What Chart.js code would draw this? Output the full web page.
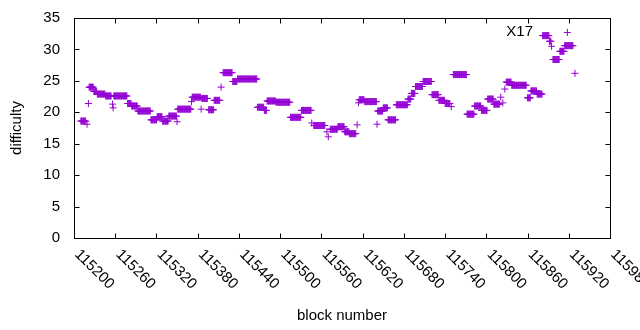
<!DOCTYPE html>
<html>
<head>
<meta charset="utf-8">
<script src="https://cdn.jsdelivr.net/npm/chart.js@4/dist/chart.umd.min.js"></script>
<style>
html, body { margin: 0; padding: 0; background: #fff; }
#wrap { width: 640px; height: 330px; }
</style>
</head>
<body>
<div id="wrap"><canvas id="difficultyChart"></canvas></div>
<script>
// runs of blocks that share the same difficulty (first block, last block, value)
var runStart = [115210, 115219, 115221, 115222, 115229, 115234, 115246, 115256, 115257, 115258,
                115278, 115284, 115293, 115312, 115321, 115329, 115338, 115350, 115351, 115371,
                115372, 115385, 115386, 115396, 115404, 115414, 115417, 115431, 115438, 115467,
                115477, 115481, 115494, 115515, 115531, 115546, 115549, 115568, 115570, 115573,
                115584, 115594, 115601, 115612, 115614, 115615, 115623, 115641, 115642, 115650,
                115657, 115669, 115686, 115691, 115697, 115708, 115721, 115731, 115740, 115749,
                115752, 115772, 115783, 115793, 115802, 115811, 115821, 115824, 115827, 115829,
                115837, 115860, 115865, 115874, 115882, 115892, 115895, 115897, 115907, 115914,
                115918, 115929];
var runEnd   = [115217, 115219, 115221, 115228, 115233, 115245, 115254, 115256, 115257, 115277,
                115283, 115292, 115311, 115320, 115328, 115337, 115349, 115350, 115370, 115371,
                115384, 115385, 115394, 115403, 115412, 115414, 115430, 115437, 115466, 115476,
                115480, 115493, 115514, 115530, 115545, 115546, 115565, 115568, 115570, 115583,
                115593, 115600, 115610, 115612, 115614, 115622, 115640, 115641, 115649, 115656,
                115668, 115685, 115690, 115696, 115707, 115720, 115730, 115739, 115747, 115749,
                115771, 115782, 115792, 115801, 115810, 115819, 115821, 115824, 115827, 115836,
                115858, 115864, 115873, 115881, 115891, 115894, 115895, 115906, 115913, 115926,
                115918, 115929];
var runDifficulty = [18.6, 18.1, 21.4, 24.0, 23.3, 22.9, 22.6, 21.3, 20.7, 22.6,
                     21.4, 21.0, 20.2, 18.8, 19.3, 18.6, 19.4, 18.5, 20.5, 21.7,
                     22.4, 20.5, 22.2, 20.4, 21.9, 24.0, 26.3, 24.9, 25.3, 20.8,
                     20.3, 21.8, 21.6, 19.2, 20.3, 18.3, 17.9, 16.9, 16.1, 17.3,
                     17.7, 16.9, 16.6, 18.0, 21.5, 22.0, 21.7, 18.1, 20.2, 20.7,
                     18.8, 21.2, 22.1, 23.0, 24.1, 24.9, 22.8, 21.9, 21.4, 20.9,
                     26.0, 19.7, 21.0, 20.3, 22.1, 21.3, 22.4, 21.5, 23.7, 24.8,
                     24.3, 22.3, 23.4, 22.9, 32.2, 31.3, 30.5, 28.4, 29.7, 30.6,
                     32.7, 26.2];

var xMin = 115200, xMax = 115980, xStep = 60;
var yMin = 0, yMax = 35, yStep = 5;
var noteText = 'X17';
var noteBlock = 115868, noteDifficulty = 32.8;

var points = [];
for (var i = 0; i < runStart.length; i++) {
    for (var b = runStart[i]; b <= runEnd[i]; b++) {
        points.push({ x: b, y: runDifficulty[i] });
    }
}

var fontFamily = '"Liberation Sans", Arial, sans-serif';

// gnuplot style frame, inward ticks, rotated x labels and the note
var gnuplotFrame = {
    id: 'gnuplotFrame',
    afterDraw: function (chart) {
        var ctx = chart.ctx, area = chart.chartArea;
        var xs = chart.scales.x, ys = chart.scales.y;
        var l = Math.round(area.left) + 0.5, r = Math.round(area.right) + 0.5;
        var t = Math.round(area.top) + 0.5, bt = Math.round(area.bottom) + 0.5;
        ctx.save();
        ctx.strokeStyle = '#000';
        ctx.lineWidth = 1;
        ctx.beginPath();
        xs.ticks.forEach(function (tk) {
            var px = Math.round(xs.getPixelForValue(tk.value)) + 0.5;
            ctx.moveTo(px, bt); ctx.lineTo(px, bt - 5);
            ctx.moveTo(px, t); ctx.lineTo(px, t + 5);
        });
        ys.ticks.forEach(function (tk) {
            var py = Math.round(ys.getPixelForValue(tk.value)) + 0.5;
            ctx.moveTo(l, py); ctx.lineTo(l + 5, py);
            ctx.moveTo(r, py); ctx.lineTo(r - 5, py);
        });
        ctx.stroke();
        ctx.strokeRect(l, t, r - l, bt - t);

        ctx.fillStyle = '#000';
        ctx.font = '15px ' + fontFamily;
        ctx.textAlign = 'left';
        ctx.textBaseline = 'middle';
        xs.ticks.forEach(function (tk) {
            var px = xs.getPixelForValue(tk.value);
            ctx.save();
            ctx.translate(px + 3, area.bottom + 14);
            ctx.rotate(Math.PI / 4);
            ctx.fillText(String(tk.value), 0, 0);
            ctx.restore();
        });

        ctx.textAlign = 'right';
        ctx.fillText(noteText, xs.getPixelForValue(noteBlock), ys.getPixelForValue(noteDifficulty));
        ctx.restore();
    }
};

new Chart(document.getElementById('difficultyChart'), {
    type: 'scatter',
    data: {
        datasets: [{
            label: 'difficulty',
            data: points,
            pointStyle: 'cross',
            pointRadius: 3.5,
            pointHoverRadius: 3.5,
            borderWidth: 1,
            borderColor: '#9400d3',
            backgroundColor: '#9400d3'
        }]
    },
    options: {
        responsive: true,
        maintainAspectRatio: false,
        animation: false,
        events: [],
        layout: { padding: { left: 0, top: 18, right: 30, bottom: 0 } },
        plugins: { legend: { display: false }, tooltip: { enabled: false } },
        scales: {
            x: {
                type: 'linear',
                min: xMin,
                max: xMax,
                grid: { display: false },
                border: { display: false },
                ticks: { display: false, stepSize: xStep },
                title: {
                    display: true,
                    text: 'block number',
                    color: '#000',
                    font: { family: fontFamily, size: 15 },
                    padding: { top: 0, bottom: 5 }
                },
                afterFit: function (scale) {
                    scale.height = 92;
                    scale.paddingLeft = 0;
                    scale.paddingRight = 0;
                }
            },
            y: {
                min: yMin,
                max: yMax,
                grid: { display: false, drawTicks: false },
                border: { display: false },
                ticks: {
                    stepSize: yStep,
                    padding: 14,
                    color: '#000',
                    font: { family: fontFamily, size: 15 }
                },
                title: {
                    display: true,
                    text: 'difficulty',
                    color: '#000',
                    font: { family: fontFamily, size: 15 },
                    padding: { top: 8, bottom: 0 }
                },
                afterFit: function (scale) {
                    scale.width = 74;
                    scale.paddingTop = 0;
                    scale.paddingBottom = 0;
                }
            }
        }
    },
    plugins: [gnuplotFrame]
});
</script>
</body>
</html>
